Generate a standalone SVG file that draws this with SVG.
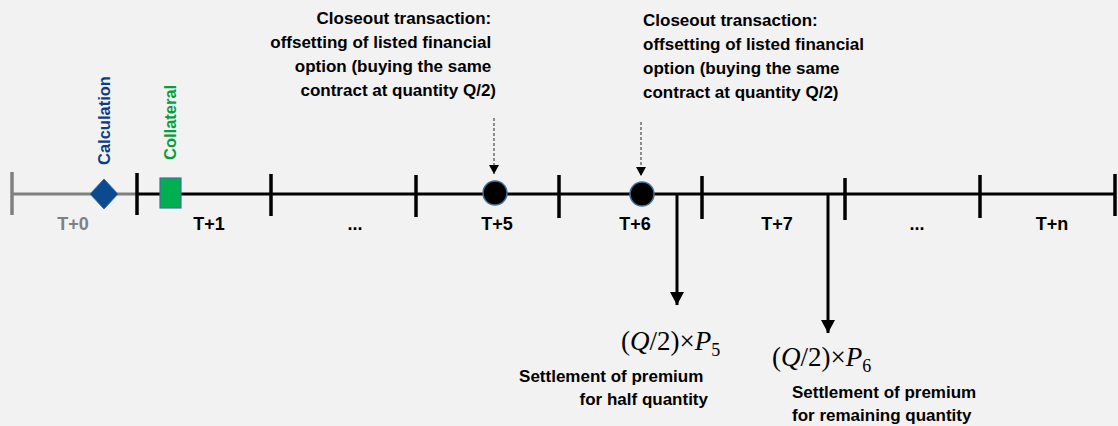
<svg xmlns="http://www.w3.org/2000/svg" width="1118" height="426" viewBox="0 0 1118 426">
<style>
.t{font-family:"Liberation Sans",Arial,sans-serif;font-weight:bold;font-size:17px;fill:#000}
.lbl{font-family:"Liberation Sans",Arial,sans-serif;font-weight:bold;font-size:18px;fill:#000;text-anchor:middle}
.tick{stroke:#000;stroke-width:3.5}
.ax{stroke:#000;stroke-width:3}
.m{font-family:"Liberation Serif","Times New Roman",serif;font-size:27px;fill:#000}
.mi{font-style:italic}
</style>
<defs>
<marker id="dh" markerWidth="10" markerHeight="10" refX="5" refY="9" orient="0" markerUnits="userSpaceOnUse" viewBox="0 0 10 10">
<path d="M0,0 L10,0 L5,9 Z" fill="#000"/>
</marker>
<marker id="sh" markerWidth="14" markerHeight="14" refX="7" refY="13" orient="0" markerUnits="userSpaceOnUse" viewBox="0 0 14 14">
<path d="M0,0 L14,0 L7,13 Z" fill="#000"/>
</marker>
</defs>
<rect width="1118" height="426" fill="#f2f2f2"/>
<g id="axis">
<line x1="12" y1="194" x2="137" y2="194" stroke="#808080" stroke-width="3"/>
<line x1="12" y1="172" x2="12" y2="215" stroke="#808080" stroke-width="3.5"/>
<line class="ax" x1="137" y1="194" x2="1114" y2="194"/>
<line class="tick" x1="137" y1="173" x2="137" y2="215"/>
<line class="tick" x1="271" y1="174" x2="271" y2="216"/>
<line class="tick" x1="416" y1="175" x2="416" y2="217"/>
<line class="tick" x1="559" y1="175" x2="559" y2="218"/>
<line class="tick" x1="702" y1="176" x2="702" y2="219"/>
<line class="tick" x1="845" y1="178" x2="845" y2="220"/>
<line class="tick" x1="980" y1="175" x2="980" y2="218"/>
<line class="tick" x1="1115" y1="174" x2="1115" y2="216"/>
</g>
<g id="labels">
<text class="lbl" x="73" y="230" style="fill:#808080">T+0</text>
<text class="lbl" x="209" y="230">T+1</text>
<text class="lbl" x="355" y="230">...</text>
<text class="lbl" x="497" y="230">T+5</text>
<text class="lbl" x="635" y="230">T+6</text>
<text class="lbl" x="777" y="230">T+7</text>
<text class="lbl" x="917" y="230">...</text>
<text class="lbl" x="1052" y="230">T+n</text>
</g>
<g id="calculation">
<path d="M104,179 L118,194 L104,209 L90,194 Z" fill="#0b4a8f" stroke="#3b6ea8" stroke-width="1"/>
<text class="t" transform="translate(110,165) rotate(-90)" style="fill:#0b3c84;font-size:16.5px">Calculation</text>
</g>
<g id="collateral">
<rect x="160" y="178" width="21" height="30" fill="#00b050" stroke="#41719c" stroke-width="1.2"/>
<text class="t" transform="translate(176,160) rotate(-90)" style="fill:#00a040;font-size:16.5px">Collateral</text>
</g>
<g id="closeout1">
<circle cx="495" cy="193" r="12" fill="#000" stroke="#41719c" stroke-width="1.5"/>
<text class="t" text-anchor="end">
<tspan x="496" y="24">Closeout transaction:</tspan>
<tspan x="496" y="48">offsetting of listed financial</tspan>
<tspan x="496" y="72">option (buying the same</tspan>
<tspan x="496" y="96">contract at quantity Q/2)</tspan>
</text>
</g>
<g id="closeout2">
<circle cx="642" cy="194" r="12" fill="#000" stroke="#41719c" stroke-width="1.5"/>
<text class="t">
<tspan x="643" y="26">Closeout transaction:</tspan>
<tspan x="643" y="50">offsetting of listed financial</tspan>
<tspan x="643" y="74">option (buying the same</tspan>
<tspan x="643" y="98">contract at quantity Q/2)</tspan>
</text>
</g>
<g id="settle1">
<text class="m" x="621" y="350">(<tspan class="mi">Q</tspan>/2)×<tspan class="mi">P</tspan><tspan font-size="18" dy="6">5</tspan></text>
<text class="t" text-anchor="end">
<tspan x="708" y="382">Settlement of premium</tspan>
<tspan x="708" y="405">for half quantity</tspan>
</text>
</g>
<g id="settle2">
<text class="m" x="772" y="366">(<tspan class="mi">Q</tspan>/2)×<tspan class="mi">P</tspan><tspan font-size="18" dy="6">6</tspan></text>
<text class="t">
<tspan x="792" y="398">Settlement of premium</tspan>
<tspan x="792" y="421">for remaining quantity</tspan>
</text>
</g>
<g id="connectors">
<line x1="494" y1="118" x2="494" y2="174" stroke="#555" stroke-width="1.3" stroke-dasharray="3,2" marker-end="url(#dh)"/>
<line x1="641" y1="122" x2="641" y2="176" stroke="#555" stroke-width="1.3" stroke-dasharray="3,2" marker-end="url(#dh)"/>
<line x1="677" y1="194" x2="677" y2="305" stroke="#000" stroke-width="3" marker-end="url(#sh)"/>
<line x1="828" y1="194" x2="828" y2="333" stroke="#000" stroke-width="3" marker-end="url(#sh)"/>
</g>
</svg>
